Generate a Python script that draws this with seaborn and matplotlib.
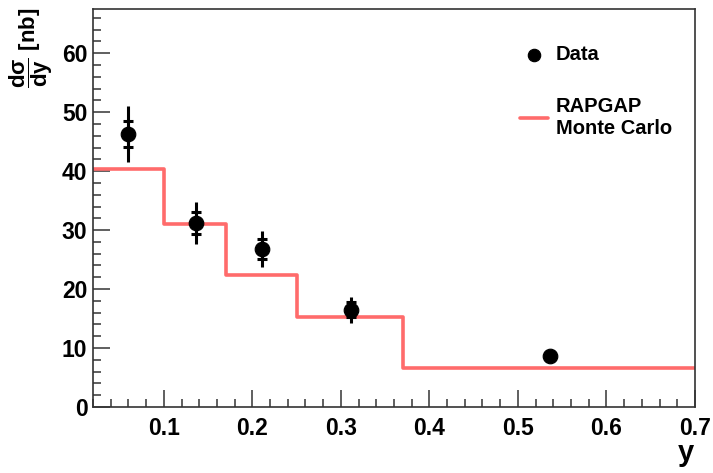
import matplotlib
matplotlib.use("Agg")
import matplotlib.pyplot as plt
import numpy as np
import pandas as pd
import seaborn as sns
from matplotlib.ticker import MultipleLocator

# RAPGAP Monte Carlo histogram (bin edges and contents)
mc_edges = [0.02, 0.10, 0.17, 0.25, 0.37, 0.70]
mc_values = [40.3, 31.0, 22.4, 15.3, 6.7]

# Data points
data_y = [0.060, 0.136, 0.211, 0.311, 0.536]
data_xsec = [46.3, 31.2, 26.8, 16.5, 8.6]
data_stat = [2.2, 1.9, 1.7, 1.3, 0.3]
data_tot = [4.7, 3.6, 3.0, 2.2, 0.5]

sns.set_style("white", {"xtick.bottom": True, "ytick.left": True,
                        "text.color": "black", "xtick.color": "black",
                        "ytick.color": "black", "axes.labelcolor": "black"})
plt.rcParams["font.family"] = ["Liberation Sans", "DejaVu Sans"]
plt.rcParams["font.weight"] = "bold"
plt.rcParams["mathtext.fontset"] = "custom"
plt.rcParams["mathtext.rm"] = "Liberation Sans:bold"
plt.rcParams["mathtext.it"] = "Liberation Sans:bold"
plt.rcParams["mathtext.bf"] = "Liberation Sans:bold"

fig = plt.figure(figsize=(7.13, 4.73), dpi=100)
ax = fig.add_axes([0.1304, 0.1395, 0.8443, 0.8415])

# step histogram
mc = pd.DataFrame({"y": mc_edges, "xsec": mc_values + [mc_values[-1]]})
sns.lineplot(data=mc, x="y", y="xsec", drawstyle="steps-post", color="#ff6b6b",
             linewidth=2.6, ax=ax, label="RAPGAP\nMonte Carlo")

# error bars: total without caps, stat with small caps
ax.errorbar(data_y, data_xsec, yerr=data_tot, fmt="none", ecolor="black",
            elinewidth=2.2, capsize=0, zorder=3)
ax.errorbar(data_y, data_xsec, yerr=data_stat, fmt="none", ecolor="black",
            elinewidth=2.2, capsize=3.5, capthick=2.2, zorder=3)
df = pd.DataFrame({"y": data_y, "xsec": data_xsec})
sns.scatterplot(data=df, x="y", y="xsec", color="black", s=110, edgecolor="black",
                ax=ax, zorder=4, label="Data")

ax.xaxis.set_major_locator(MultipleLocator(0.1))
ax.xaxis.set_minor_locator(MultipleLocator(0.02))
ax.yaxis.set_major_locator(MultipleLocator(10))
ax.yaxis.set_minor_locator(MultipleLocator(2))
ax.set_xlim(0.02, 0.70)
ax.set_ylim(0, 67.5)
ax.tick_params(which="both", direction="in", labelsize=16.5, width=1.2,
               color="#444444", labelcolor="black", bottom=True, left=True)
ax.tick_params(which="major", length=12)
ax.tick_params(which="minor", length=6)
ax.tick_params(axis="x", pad=7)
ax.tick_params(axis="y", pad=4)
for lab in ax.get_xticklabels() + ax.get_yticklabels():
    lab.set_fontweight("bold")
for s in ax.spines.values():
    s.set_color("#333333")
    s.set_linewidth(1.2)

ax.set_xlabel("")
ax.set_ylabel("")
fig.text(0.962, 0.012, "y", fontsize=21, fontweight="bold", ha="center", va="bottom")
fig.text(0.043, 0.985, r"$\dfrac{d\sigma}{dy}$ [nb]", fontsize=16, fontweight="bold",
         rotation=90, ha="center", va="top")

handles, labels = ax.get_legend_handles_labels()
order = [labels.index("Data"), labels.index("RAPGAP\nMonte Carlo")]
ax.legend([handles[i] for i in order], [labels[i] for i in order],
          loc="upper left", bbox_to_anchor=(0.68, 0.955), frameon=False,
          prop={"weight": "bold", "size": 14.5}, labelspacing=1.65,
          handlelength=1.35, handletextpad=0.4, markerscale=0.85)

fig.savefig("out.png", dpi=100)
